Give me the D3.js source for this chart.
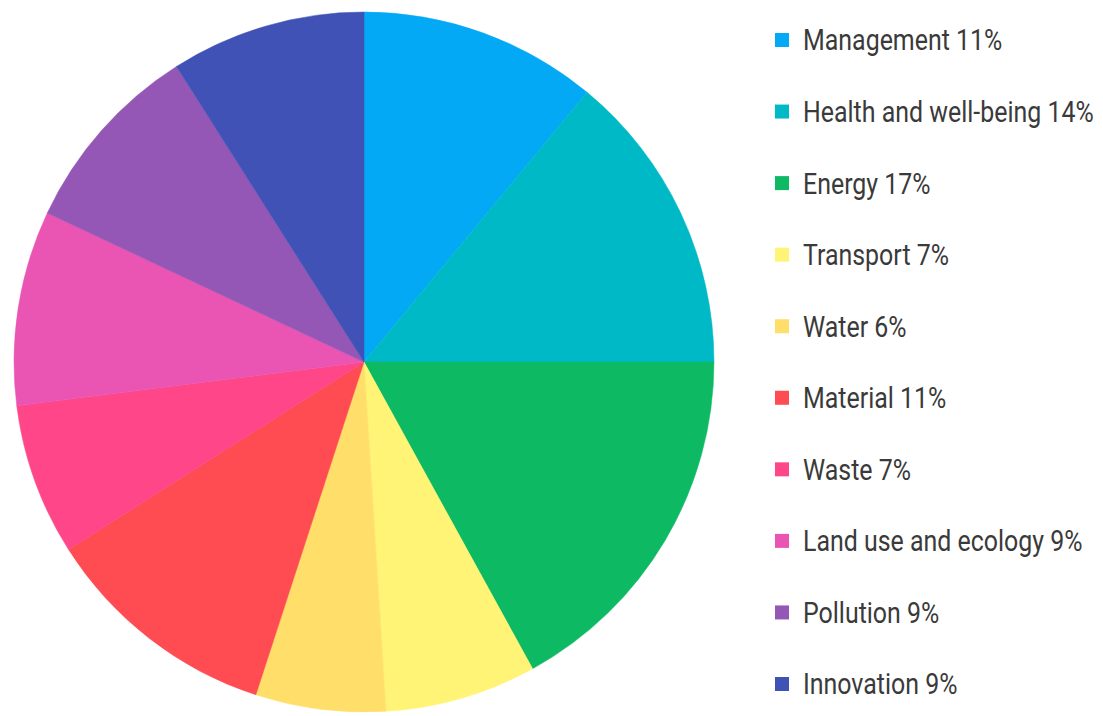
<!DOCTYPE html>
<html>
<head>
<meta charset="utf-8">
<script src="https://cdn.jsdelivr.net/npm/d3@7"></script>
<style>
  body { margin: 0; background: #fff; }
  svg { display: block; }
</style>
</head>
<body>
<div id="chart"></div>
<script>
// categories and their shares (%)
const categories = ["Management", "Health and well-being", "Energy", "Transport", "Water",
    "Material", "Waste", "Land use and ecology", "Pollution", "Innovation"];
const shares = [11, 14, 17, 7, 6, 11, 7, 9, 9, 9];
const colors = ["#03a9f4", "#00b9c6", "#0dba63", "#fff475", "#ffdf6a",
    "#ff4b52", "#ff4688", "#ea54b3", "#9457b5", "#4052b5"];

const width = 1103, height = 716;

const svg = d3.select("#chart")
    .append("svg")
    .attr("width", width)
    .attr("height", height);

const data = categories.map((c, i) => ({ name: c, value: shares[i], color: colors[i] }));

//pie
const cx = 364, cy = 362, radius = 350;

const pie = d3.pie()
    .sort(null)
    .value(d => d.value);

const arc = d3.arc()
    .innerRadius(0)
    .outerRadius(radius);

svg.append("g")
    .attr("transform", `translate(${cx}, ${cy})`)
    .selectAll("path")
    .data(pie(data))
    .enter()
    .append("path")
    .attr("d", arc)
    .attr("fill", d => d.data.color)
    .attr("stroke", d => d.data.color)
    .attr("stroke-width", 0.5);

//legend
const legendY = d3.scalePoint()
    .domain(categories)
    .range([40, 684]);

const legend = svg.append("g")
    .selectAll(".legend")
    .data(data)
    .enter()
    .append("g")
    .attr("class", "legend")
    .attr("transform", d => `translate(775, ${legendY(d.name)})`);

legend.append("rect")
    .attr("x", 0)
    .attr("y", -7)
    .attr("width", 14)
    .attr("height", 14)
    .attr("fill", d => d.color);

// condensed look: squeeze the text horizontally
legend.append("text")
    .attr("transform", "translate(28, 0) scale(0.86, 1)")
    .attr("dy", "0.36em")
    .style("font-family", "Roboto, sans-serif")
    .style("font-size", "29px")
    .style("fill", "#3a3a3a")
    .text(d => `${d.name} ${d.value}%`);
</script>
</body>
</html>
